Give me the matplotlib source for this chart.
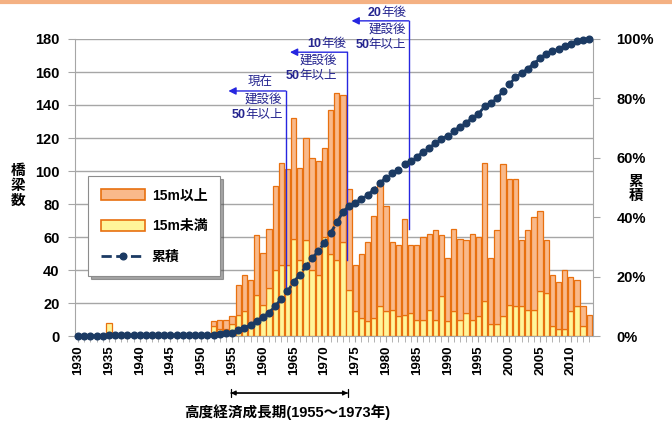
import matplotlib
matplotlib.use("Agg")
import matplotlib.pyplot as plt
import numpy as np
from matplotlib.lines import Line2D
from matplotlib.patches import Patch
from matplotlib.text import OffsetFrom
from matplotlib.transforms import blended_transform_factory

plt.rcParams["font.family"] = ["Liberation Sans", "Noto Sans CJK JP", "DejaVu Sans"]

# ---------------------------------------------------------------------------
# Data: bridges built per year, split by length
# ---------------------------------------------------------------------------
years = np.arange(1930, 2014)

# 15m未満 (short bridges)
under_15m = [
    0, 0, 0, 0, 0, 8, 0, 0, 0, 0,            # 1930-1939
    0, 0, 0, 0, 0, 0, 0, 0, 0, 0,            # 1940-1949
    0, 0, 6, 4, 4, 7, 13, 15, 6, 25,         # 1950-1959
    19, 29, 40, 43, 43, 59, 46, 58, 40, 37,  # 1960-1969
    60, 50, 46, 57, 28, 15, 11, 9, 11, 18,   # 1970-1979
    15, 16, 12, 13, 14, 10, 10, 16, 10, 24,  # 1980-1989
    9, 15, 10, 14, 10, 12, 21, 7, 7, 12,     # 1990-1999
    19, 18, 18, 16, 16, 27, 26, 6, 4, 4,     # 2000-2009
    15, 18, 6, 0,                            # 2010-2013
]

# 15m以上 (long bridges)
over_15m = [
    0, 0, 0, 0, 0, 0, 0, 0, 0, 0,            # 1930-1939
    0, 0, 0, 0, 0, 0, 0, 0, 0, 0,            # 1940-1949
    0, 0, 3, 6, 6, 5, 18, 22, 28, 36,        # 1950-1959
    31, 36, 51, 62, 58, 73, 56, 62, 68, 69,  # 1960-1969
    54, 87, 101, 89, 61, 28, 39, 48, 62, 74, # 1970-1979
    64, 41, 43, 58, 41, 45, 50, 46, 54, 37,  # 1980-1989
    38, 50, 49, 44, 52, 48, 84, 40, 57, 92,  # 1990-1999
    76, 77, 40, 48, 56, 49, 32, 31, 29, 36,  # 2000-2009
    21, 16, 12, 13,                          # 2010-2013
]

# "50 years after construction" markers: (number part, word part, cutoff year)
milestone_lead = [("", "現在"), ("10", "年後"), ("20", "年後")]
milestone_years = [1963, 1973, 1983]

boom_start, boom_end = 1955, 1973

# ---------------------------------------------------------------------------
# Styling
# ---------------------------------------------------------------------------
ORANGE = "#F9B98A"
YELLOW = "#FFF59A"
EDGE = "#E8700F"
NAVY = "#1B3A63"
GRID = "#A6A6A6"
BLUE_LINE = "#2626E0"
BLUE_TEXT = "#25258F"

under = np.array(under_15m, dtype=float)
over = np.array(over_15m, dtype=float)
total = under + over
cum = np.cumsum(total) / total.sum()

W, H = 672, 423
fig = plt.figure(figsize=(W / 100, H / 100), dpi=100)
ax = fig.add_axes([75 / W, 1 - 336 / H, (593 - 75) / W, (336 - 39) / H])

# thin accent line along the top edge
fig.add_artist(Line2D([0, 1], [0.996, 0.996], transform=fig.transFigure,
                      color="#F4B183", lw=3))

m_u = under > 0
m_o = over > 0
ax.bar(years[m_u], under[m_u], width=0.86, color=YELLOW, edgecolor=EDGE,
       lw=0.9, zorder=2)
ax.bar(years[m_o], over[m_o], bottom=under[m_o], width=0.86, color=ORANGE,
       edgecolor=EDGE, lw=0.9, zorder=2)

ax.set_xlim(1929.5, 2013.6)
ax.set_ylim(0, 180)
ax.set_yticks(np.arange(0, 181, 20))
ax.yaxis.grid(True, color=GRID, lw=1.0)
ax.set_axisbelow(True)

ax.set_xticks(np.arange(1930, 2011, 5))
ax.set_xticks(years, minor=True)
ax.set_xticklabels([str(y) for y in range(1930, 2011, 5)], rotation=90,
                   fontsize=9.5, fontweight="bold")
ax.tick_params(axis="x", which="both", length=4, color=GRID, pad=3)
ax.tick_params(axis="y", length=5, color=GRID, pad=6, labelsize=10.5)
for lab in ax.get_yticklabels():
    lab.set_fontweight("bold")

for side in ["top", "right"]:
    ax.spines[side].set_visible(False)
for side in ["left", "bottom"]:
    ax.spines[side].set_color(GRID)

# cumulative share on the right axis
ax2 = ax.twinx()
ax2.plot(years, cum, ls="--", lw=2.0, color=NAVY, marker="o", ms=4.8,
         clip_on=False, zorder=5)
ax2.set_ylim(0, 1.0)
ax2.set_yticks(np.linspace(0, 1, 6))
ax2.set_yticklabels([f"{int(v * 100)}%" for v in np.linspace(0, 1, 6)],
                    fontsize=10.5, fontweight="bold")
ax2.tick_params(axis="y", length=5, color=GRID, pad=12)
for side in ["top", "left", "bottom"]:
    ax2.spines[side].set_visible(False)
ax2.spines["right"].set_color(GRID)


def mixed_label(x, y, num, word, va):
    """Right-aligned caption whose leading number is set in bold."""
    t = ax.text(x, y, word, ha="right", va=va, fontsize=9, color=BLUE_TEXT,
                clip_on=False)
    if num:
        ax.annotate(num, xy=(0, 0), xycoords=OffsetFrom(t, (0, 0)),
                    xytext=(0.3, 0), textcoords="offset points",
                    ha="right", va="bottom", fontsize=9, fontweight="bold",
                    color=BLUE_TEXT, annotation_clip=False)


# milestone arrows: vertical cut line + leftward arrow + caption
arrow_y = [148.5, 172, 191]
line_bottom = [26, 46, 65]
head_x = [2.1, 0.2, 0.4]  # right-edge offset of the first caption line
body_x = [0.5, 1.7, 0.4]
for (num, word), yr, ya, yb, hx, bx in zip(milestone_lead, milestone_years,
                                           arrow_y, line_bottom, head_x, body_x):
    xv = yr + 0.7
    ax.plot([xv, xv], [yb, ya], color=BLUE_LINE, lw=1.0, zorder=4, clip_on=False)
    ax.annotate("", xy=(xv - 9.3, ya), xytext=(xv, ya),
                arrowprops=dict(arrowstyle="-|>", color=BLUE_LINE, lw=1.0,
                                mutation_scale=11, shrinkA=0, shrinkB=0),
                annotation_clip=False, zorder=4)
    mixed_label(xv - hx, ya + 1.2, num, word, "bottom")
    ax.text(xv - bx, ya - 1.5, "建設後", ha="right", va="top", fontsize=9,
            color=BLUE_TEXT, clip_on=False)
    mixed_label(xv - bx, ya - 10.8, "50", "年以上", "top")

# high-growth era span below the axis
tr = blended_transform_factory(ax.transData, ax.transAxes)
ax.annotate("", xy=(boom_start - 0.2, -0.192), xytext=(boom_end + 0.8, -0.192),
            xycoords=tr, textcoords=tr,
            arrowprops=dict(arrowstyle="|-|", color="black", lw=0.9,
                            mutation_scale=3, shrinkA=0, shrinkB=0))
ax.annotate("", xy=(boom_start - 0.2, -0.192), xytext=(boom_end + 0.8, -0.192),
            xycoords=tr, textcoords=tr,
            arrowprops=dict(arrowstyle="<|-|>", color="black", lw=0.9,
                            mutation_scale=7, shrinkA=0, shrinkB=0))
ax.text(1964.0, -0.255, f"高度経済成長期({boom_start}～{boom_end}年)", transform=tr,
        ha="center", va="center", fontsize=10.5, fontweight="bold")

# axis titles, stacked vertically
fig.text(18 / W, 1 - 186 / H, "橋\n梁\n数", ha="center", va="center",
         fontsize=10.5, fontweight="bold", linespacing=1.05)
fig.text(636 / W, 1 - 189 / H, "累\n積", ha="center", va="center",
         fontsize=10.5, fontweight="bold", linespacing=1.05)

handles = [
    Patch(facecolor=ORANGE, edgecolor=EDGE, lw=1.2, label="15m以上"),
    Patch(facecolor=YELLOW, edgecolor=EDGE, lw=1.2, label="15m未満"),
    Line2D([], [], ls="--", lw=2.0, color=NAVY, marker="o", ms=4.8, label="累積"),
]
leg = fig.legend(handles=handles, loc="upper left",
                 bbox_to_anchor=(88 / W, 1 - 176 / H), frameon=True,
                 fancybox=False, shadow=True, edgecolor="#8C8C8C",
                 prop=dict(size=10, weight="bold"), handlelength=3.2,
                 handleheight=0.9, labelspacing=1.2, borderpad=0.9,
                 handletextpad=0.5, borderaxespad=0)
leg.get_frame().set_linewidth(0.8)

fig.savefig("out.png", dpi=100)
